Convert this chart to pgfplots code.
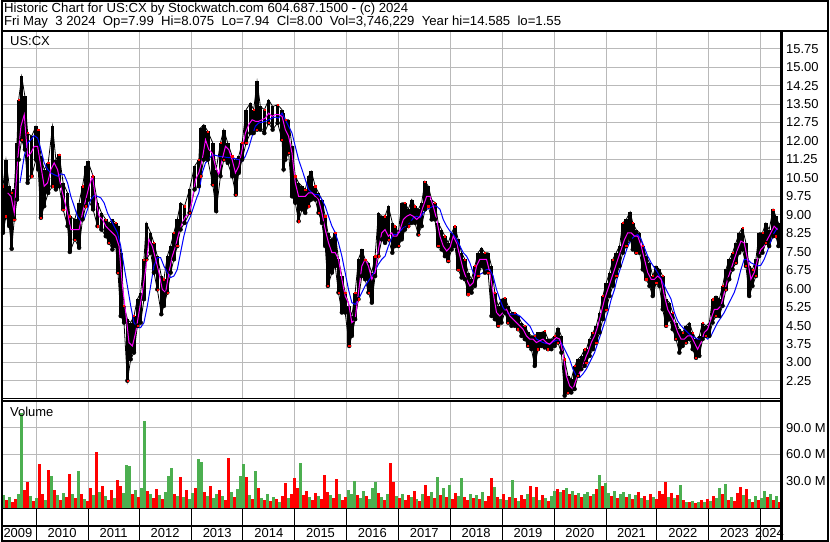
\documentclass[border=0pt]{standalone}
\usepackage{pgfplots}
\pgfplotsset{compat=1.18}
\usepackage{pgfplotstable}
\usepackage{fontspec}
\setmainfont{Liberation Sans}
\definecolor{vgreen}{RGB}{76,175,80}
\definecolor{vred}{RGB}{255,0,0}
\definecolor{mag}{RGB}{255,0,255}
\definecolor{mablue}{RGB}{0,0,255}
\definecolor{gridc}{RGB}{185,185,185}

\pgfplotstableread{
x hi lo
2 10.16 8.27
5 11.24 8.94
8.3 10.16 8.54
10.7 9.89 7.62
13.3 10.03 8.81
16 11.92 9.62
17.7 13.67 11.24
20.7 14.62 12.05
24 13.81 11.65
26.7 12.32 10.30
30.7 12.19 10.57
35 12.60 11.24
37.3 12.46 10.84
40 11.38 8.88
43.3 10.84 9.35
47.3 11.11 9.89
51.7 12.60 10.16
55 11.24 10.03
58.3 11.45 10.16
62.3 10.30 9.22
66.7 9.89 8.54
69 8.94 7.49
74 8.81 8.00
78.3 9.49 7.66
81.7 10.16 8.81
85 10.97 9.35
87.3 11.17 9.62
92.3 10.57 9.22
96.7 9.49 8.54
100.7 9.08 8.40
105 8.81 8.13
108.3 8.67 7.86
111.7 8.81 7.59
115 8.67 7.73
117.3 8.54 6.65
120 7.46 4.89
123.3 5.30 4.62
126.7 4.76 2.26
130 4.62 3.13
133.3 4.89 3.40
136.7 5.57 4.49
140 5.84 4.62
143.3 7.19 5.57
145.7 8.67 7.19
150 8.27 7.46
153.3 7.86 6.65
156.7 7.32 5.97
160.7 6.51 4.96
163.3 6.38 5.30
166.7 7.32 5.84
170 7.73 6.65
173.3 8.27 7.19
176.7 8.81 7.73
180 9.49 8.40
184 9.35 8.67
189 10.03 9.08
194 10.97 10.03
198.3 11.24 10.16
200 12.53 10.57
203.3 12.66 11.24
207.3 12.39 11.24
212.3 11.92 10.23
215.7 10.84 9.15
220 11.92 10.57
223.3 12.46 11.24
227.3 11.92 11.11
231.7 11.38 10.57
235.3 11.24 9.82
238.3 11.38 10.70
241.7 11.92 11.24
245.7 13.27 11.92
250 13.54 12.32
253.3 13.27 12.32
256.7 14.42 12.46
260 13.40 12.46
264 13.27 12.32
268.3 13.67 12.73
272.3 13.40 12.46
277.3 13.47 12.73
281.7 13.27 12.05
283.3 13.13 10.84
285 12.86 11.24
288.3 12.86 11.51
291.7 11.78 9.75
295 10.57 9.49
298.3 10.30 8.74
301.7 10.16 9.22
305 10.03 9.08
308.3 10.57 9.35
311 10.77 9.62
315 10.16 9.62
318.3 9.89 9.08
321.7 9.62 8.67
325 8.94 7.73
327.7 8.27 6.11
331.7 8.00 6.65
335 8.27 6.92
338.3 7.19 5.84
341.7 6.51 5.03
345 5.84 5.03
349 5.30 3.67
351.7 4.89 4.08
355 5.84 4.76
358.3 7.19 5.57
361.7 7.59 6.51
365 7.19 6.38
368.3 7.05 5.84
371.7 6.65 5.43
375 7.32 6.51
378.3 9.08 7.32
381.7 8.94 8.00
385 8.94 7.86
388.3 9.35 8.00
392.3 8.67 7.46
395 8.54 7.73
398.3 8.27 7.73
401.7 9.49 8.00
405 9.49 8.40
408.3 9.22 8.54
411.7 9.62 8.67
415 9.35 8.67
418.3 9.22 8.20
421.7 9.49 8.54
425 10.36 9.22
428.3 10.16 9.35
431.7 9.62 8.81
435 9.49 8.81
438.3 8.67 7.73
441.7 8.40 7.59
445 8.13 7.32
448.3 7.86 7.12
451.7 8.27 7.59
455 8.54 7.73
458.3 8.00 6.78
461.7 7.46 6.45
465 7.19 6.38
468.3 6.65 5.77
471.7 6.38 5.84
475 6.92 6.11
478.3 7.46 6.51
481.7 7.66 6.92
485 7.46 6.65
488.3 7.46 6.65
491.7 6.92 4.89
495 5.84 4.76
498.3 5.30 4.49
501.7 5.57 4.62
505 5.63 5.03
508.3 5.30 4.62
511.7 5.03 4.49
515 5.03 4.49
518.3 4.89 4.35
521.7 4.62 4.08
525 4.49 3.95
528.3 4.22 3.67
531.7 4.08 3.54
535 4.08 2.86
538.3 4.22 3.54
541.7 4.22 3.67
545 4.28 3.61
548.3 3.95 3.54
551.7 3.95 3.54
555 4.08 3.67
558.3 4.42 3.81
561.7 4.08 3.40
565 3.13 1.65
568.3 2.46 1.78
571.7 2.32 1.78
575 2.86 1.92
578.3 3.13 2.46
581.7 3.27 2.73
585 3.54 2.86
586.7 3.54 3.00
590 3.95 3.27
593.3 4.22 3.54
596.7 4.49 3.81
600 5.03 4.22
603.3 5.70 4.76
606.7 6.24 5.16
610 6.65 5.70
613.3 7.19 6.11
616.7 7.46 6.51
620 7.73 6.92
623.3 8.67 7.46
626.7 8.81 7.73
630.7 9.12 8.00
633.3 8.67 7.59
636.7 8.40 7.46
640 8.27 7.46
643.3 7.73 6.78
646.7 7.32 6.38
650 7.05 6.11
653.3 6.51 5.70
656.7 6.92 6.24
660 6.78 6.11
663.3 6.51 5.16
666.7 5.57 4.49
670 5.43 4.76
673.3 5.03 4.35
676.7 4.62 3.95
680 4.35 3.40
683.3 4.22 3.67
686.7 4.49 3.81
690 4.62 3.95
693.3 4.22 3.54
696.7 3.95 3.19
700 4.08 3.27
703.3 4.62 3.95
706.7 4.49 4.08
710 4.62 4.08
713.3 5.57 4.62
716.7 5.70 4.89
720 5.57 4.89
723.3 6.11 5.30
726.7 6.78 5.97
730 7.19 6.38
733.3 7.46 6.78
736.7 7.86 7.05
740 8.27 7.46
743.3 8.47 7.59
746.7 7.86 6.92
750 6.92 5.70
753.3 6.78 6.11
756.7 7.19 6.51
760 8.27 7.32
763.3 8.27 7.46
766.7 8.67 7.86
770 8.40 7.73
774 9.22 8.13
776.7 8.94 8.13
779.3 8.67 7.73
}\price

\pgfplotstableread{
x m
6.7 9.89
10 9.75
13.3 9.08
16.7 11.24
20 12.60
23.3 13.07
26.7 11.38
30 11.51
33.3 11.78
36.7 11.78
40 10.97
43.3 10.16
46.7 10.30
50 10.84
53.3 11.11
56.7 10.84
60 10.16
63.3 9.62
66.7 9.08
70 8.40
75 8.40
78.3 8.40
81.7 9.08
85 9.62
88.3 10.16
91.7 10.57
95 9.62
98.3 8.94
101.7 8.81
105 8.54
108.3 8.40
111.7 8.27
115 8.13
118.3 7.73
121.7 6.11
125 5.03
128.3 3.81
131.7 3.67
135 4.22
138.3 5.03
141.7 5.84
145 6.78
148.3 8.00
151.7 7.73
155 7.19
158.3 6.65
161.7 5.97
165 5.84
168.3 6.65
171.7 7.32
175 7.73
178.3 8.27
181.7 8.67
185 8.94
188.3 9.01
191.7 9.62
195 10.43
198.3 10.70
201.7 11.24
205 12.05
208.3 11.65
211.7 11.51
215 10.97
218.3 10.63
221.7 11.24
225 11.78
228.3 11.65
231.7 11.24
235 10.70
238.3 10.97
241.7 11.65
245 12.32
248.3 12.66
251.7 12.86
255 12.80
258.3 12.80
261.7 12.86
265 12.93
268.3 13.13
271.7 13.00
275 13.07
278.3 13.07
281.7 13.00
285 12.46
288.3 12.19
291.7 11.51
295 10.30
298.3 9.75
301.7 9.75
305 9.75
308.3 9.89
311.7 9.89
315 9.75
318.3 9.62
321.7 9.08
325 8.40
328.3 7.86
331.7 7.46
335 7.46
338.3 7.19
341.7 6.38
345 5.70
348.3 5.43
351.7 4.62
355 4.76
358.3 5.84
361.7 6.92
365 7.19
368.3 6.92
371.7 6.38
375 6.65
378.3 7.59
381.7 8.27
385 8.40
388.3 8.13
391.7 8.27
393.3 8.13
396.7 8.13
400 8.40
403.3 8.81
406.7 8.94
410 9.01
413.3 8.94
416.7 8.81
420 8.94
423.3 9.35
426.7 9.75
430 9.75
433.3 9.35
436.7 8.81
440 8.13
443.3 7.73
446.7 7.53
450 7.66
453.3 8.13
456.7 7.86
460 7.32
463.3 6.78
466.7 6.38
470 6.11
473.3 6.24
476.7 6.92
480 7.19
483.3 7.19
486.7 7.19
490 6.65
493.3 5.84
496.7 5.03
500 4.89
503.3 5.03
506.7 5.16
510 4.89
513.3 4.76
516.7 4.62
520 4.49
523.3 4.35
526.7 4.08
530 3.95
533.3 3.95
536.7 3.81
540 3.88
543.3 3.95
546.7 3.81
550 3.74
553.3 3.88
556.7 4.01
560 3.95
563.3 3.40
566.7 2.46
570 2.05
573.3 1.92
576.7 2.32
580 2.59
583.3 2.86
586.7 3.27
588.3 3.40
591.7 3.81
595 4.08
598.3 4.49
601.7 5.03
605 5.57
608.3 5.97
611.7 6.38
615 6.78
618.3 7.19
621.7 7.59
625 8.00
628.3 8.27
631.7 8.27
635 8.13
638.3 8.13
641.7 7.73
645 7.19
648.3 6.65
651.7 6.38
655 6.38
658.3 6.51
661.7 6.38
665 5.70
668.3 5.16
671.7 4.89
675 4.62
678.3 4.22
681.7 3.95
685 3.95
688.3 4.08
691.7 4.08
695 3.81
698.3 3.54
701.7 3.81
705 4.22
708.3 4.35
711.7 4.76
715 5.16
718.3 5.16
721.7 5.30
725 5.84
728.3 6.38
731.7 6.78
735 7.19
738.3 7.59
741.7 7.93
745 7.86
748.3 7.19
751.7 6.38
755 6.65
758.3 7.19
761.7 7.59
765 7.73
768.3 8.00
771.7 8.27
775 8.54
778.3 8.40
}\mafast

\pgfplotstableread{
x m
19 10.30
23.3 11.38
26.7 11.92
30 12.05
33.3 12.22
36.7 12.12
40 11.65
43.3 11.11
46.7 10.84
50 10.70
53.3 10.63
56.7 10.57
60 10.66
63.3 10.63
66.7 10.30
70 9.75
73.3 9.35
76.7 8.94
80 8.74
83.3 8.81
86.7 9.22
90 9.62
93.3 9.78
96.7 9.75
100 9.69
103.3 9.49
106.7 9.08
110 8.81
113.3 8.54
116.7 8.27
120 7.73
123.3 6.92
126.7 6.11
130 5.30
133.3 4.62
136.7 4.42
140 4.42
143.3 4.62
146.7 5.30
150 6.11
153.3 6.92
156.7 7.26
160 7.26
163.3 6.92
166.7 6.65
170 6.45
173.3 6.51
176.7 6.78
180 7.46
183.3 8.13
186.7 8.67
190 8.94
193.3 9.35
196.7 9.75
198.3 9.89
201.7 10.70
205 11.11
208.3 11.24
211.7 11.45
218.3 11.38
225 11.34
231.7 11.31
238.3 11.24
241.7 11.17
245 11.38
248.3 11.72
251.7 12.19
255 12.60
258.3 12.73
261.7 12.76
265 12.80
268.3 12.86
271.7 12.93
275 12.97
278.3 12.93
281.7 13.13
285 12.86
288.3 12.60
291.7 12.32
295 11.78
298.3 11.24
301.7 10.84
305 10.43
308.3 10.03
311.7 9.89
315 9.82
318.3 9.82
321.7 9.62
325 9.35
328.3 8.94
331.7 8.54
335 8.27
338.3 7.86
341.7 7.32
345 6.65
348.3 5.97
351.7 5.43
355 5.36
358.3 5.57
361.7 5.84
365 6.11
368.3 6.31
371.7 6.51
375 6.72
378.3 6.99
381.7 7.19
385 7.32
388.3 7.73
391.7 8.07
393.3 8.20
396.7 8.20
400 8.34
403.3 8.47
406.7 8.54
410 8.67
413.3 8.88
416.7 8.94
420 8.88
423.3 9.08
426.7 9.22
430 9.28
433.3 9.35
436.7 9.35
440 9.22
443.3 8.81
446.7 8.54
450 8.34
453.3 8.20
456.7 8.00
460 7.73
463.3 7.46
466.7 7.32
470 7.05
473.3 6.65
476.7 6.51
480 6.58
483.3 6.65
486.7 6.78
490 6.78
493.3 6.51
496.7 5.97
500 5.57
503.3 5.23
506.7 5.03
510 4.96
516.7 4.96
520 4.89
523.3 4.76
526.7 4.62
530 4.49
533.3 4.22
536.7 3.95
540 3.88
543.3 3.81
546.7 3.77
550 3.74
553.3 3.84
556.7 3.90
560 3.90
563.3 3.67
566.7 3.40
570 3.13
573.3 2.73
576.7 2.46
580 2.39
583.3 2.53
586.7 2.73
588.3 2.86
591.7 3.13
595 3.40
598.3 3.81
601.7 4.22
605 4.62
608.3 5.03
611.7 5.57
615 5.97
618.3 6.51
621.7 6.92
625 7.32
628.3 7.73
631.7 8.00
635 8.13
638.3 8.20
641.7 8.00
645 7.66
648.3 7.32
651.7 7.05
655 6.85
658.3 6.65
661.7 6.38
665 6.11
668.3 5.84
671.7 5.57
675 5.03
678.3 4.69
681.7 4.49
685 4.35
688.3 4.22
691.7 4.08
695 4.01
698.3 3.95
701.7 3.95
705 4.08
708.3 3.95
711.7 4.08
715 4.35
718.3 4.62
721.7 4.82
725 5.03
728.3 5.30
731.7 5.57
735 5.84
738.3 6.24
741.7 6.78
745 7.19
748.3 7.19
751.7 7.05
755 6.99
758.3 6.92
761.7 6.95
765 7.19
768.3 7.53
771.7 7.93
775 8.27
778.3 8.47
}\maslow

\pgfplotstableread{
x v
6 9
12 7
15 10
24 20
27 29
33 8
39 49
42 15
48 42
54 20
60 9
66 12
69 38
75 11
81 15
87 8
90 22
96 63
102 25
108 9
111 20
117 31
120 24
132 15
138 12
147 19
153 11
156 21
162 10
174 16
180 35
186 20
195 22
204 18
210 24
219 20
225 9
228 56
234 12
246 35
252 10
258 22
264 9
270 8
276 10
282 13
285 28
291 16
294 33
297 22
303 14
306 19
312 9
315 17
321 10
324 37
327 18
333 11
336 32
342 9
345 12
357 14
366 13
378 17
384 9
390 50
393 29
399 11
405 9
408 14
414 19
420 8
426 26
429 13
435 11
441 14
447 12
453 10
456 17
465 12
468 9
474 11
480 10
486 8
489 13
492 33
498 12
504 15
510 12
516 11
522 14
525 10
531 24
537 23
543 14
549 8
558 21
564 20
570 16
576 14
582 12
591 13
597 21
603 24
612 13
618 11
627 12
633 10
639 18
645 13
651 16
657 10
660 19
663 15
666 29
672 17
678 14
684 9
690 6
696 5
702 9
708 10
714 13
723 15
729 9
735 8
738 17
741 23
747 21
753 7
759 9
768 12
774 9
780 7
}\volred

\pgfplotstableread{
x v
3 14
9 12
18 15
21 106
30 13
36 11
45 9
51 36
57 14
63 17
72 16
78 41
84 10
93 14
99 18
105 13
114 11
123 17
126 48
129 47
135 20
141 22
144 97
150 15
159 14
165 18
168 36
171 45
177 13
183 12
189 10
192 17
198 55
201 52
207 13
213 11
216 16
222 13
231 18
237 21
240 36
243 49
249 14
255 41
261 11
267 15
273 12
279 7
288 11
300 50
309 12
318 13
330 14
339 15
348 20
351 16
354 30
360 11
363 19
369 10
372 22
375 29
381 12
387 15
396 13
402 16
411 12
417 10
423 15
432 18
438 35
444 22
450 26
459 13
462 34
471 16
477 14
483 18
495 23
501 10
507 9
513 31
519 8
528 16
534 12
540 9
546 11
552 13
555 19
561 18
567 22
573 19
579 17
585 15
588 18
594 16
600 37
606 28
609 17
615 19
621 15
624 18
630 16
636 14
642 11
648 9
654 12
669 12
675 11
681 26
687 7
693 8
699 7
705 6
711 8
717 11
720 22
726 27
732 12
744 14
750 10
756 13
762 11
765 19
771 15
777 13
}\volgreen

\begin{document}
\begin{tikzpicture}[font=\fontsize{13}{15}\selectfont]
\fill[white] (0,0) rectangle (830pt,543pt);

% grid, aligned to pixel centres
\foreach \xx in {35.5,87.5,138.5,190.5,242.5,294.5,346.5,398.5,450.5,502.5,554.5,606.5,657.5,709.5,761.5} {
  \draw[gridc, line width=1pt] (\xx pt,144pt) -- (\xx pt,511pt);
  \draw[gridc, line width=1pt] (\xx pt,34pt) -- (\xx pt,141pt);
}
\foreach \yy in {161.5,179.5,198.5,216.5,235.5,253.5,272.5,290.5,309.5,327.5,346.5,364.5,383.5,401.5,420.5,438.5,457.5,475.5,494.5,60.5,87.5,114.5}
  \draw[gridc, line width=1pt] (2pt,\yy pt) -- (782pt,\yy pt);

% price panel
\begin{axis}[
  at={(2pt,144pt)}, anchor=south west, scale only axis,
  width=780pt, height=367pt,
  xmin=2, xmax=782, ymin=1.555, ymax=16.43,
  axis line style={draw=none},
  xtick={35.3,87.3,138.3,190.7,242.7,294.3,346.3,398.3,450.3,502.3,554.3,606.3,657.7,709.3,761.3},
  xticklabels={},
  ytick={2.25,3,3.75,4.5,5.25,6,6.75,7.5,8.25,9,9.75,10.5,11.25,12,12.75,13.5,14.25,15,15.75},
  yticklabel pos=right,
  /pgf/number format/fixed,
  /pgf/number format/fixed zerofill,
  /pgf/number format/precision=2,
  /pgf/number format/assume math mode=true,
  yticklabel style={anchor=west, xshift=1.5pt, font=\fontsize{13}{15}\selectfont},
  major tick length=0pt,
]
\addplot[black, only marks, mark=none,
  error bars/.cd, y dir=plus, y explicit, error mark=none,
  error bar style={black, line width=3.6pt}]
  table[x=x, y=lo, y error plus expr=\thisrow{hi}-\thisrow{lo}] {\price};
\addplot[black, line width=0.8pt] table[x=x, y=hi] {\price};
\addplot[black, line width=0.8pt] table[x=x, y=lo] {\price};
\addplot[only marks, mark=square*, mark size=0.6pt, vred, mark repeat=3] table[x=x, y=hi] {\price};
\addplot[only marks, mark=square*, mark size=0.6pt, vred, mark repeat=3, mark phase=2] table[x=x, y=lo] {\price};
\addplot[mablue, line width=1pt] table[x=x, y=m] {\maslow};
\addplot[mag, line width=1pt] table[x=x, y=m] {\mafast};
\end{axis}

% volume panel
\begin{axis}[
  at={(2pt,34pt)}, anchor=south west, scale only axis,
  width=780pt, height=107pt,
  xmin=2, xmax=782, ymin=0, ymax=120,
  axis line style={draw=none},
  xtick={35.3,87.3,138.3,190.7,242.7,294.3,346.3,398.3,450.3,502.3,554.3,606.3,657.7,709.3,761.3},
  xticklabels={},
  ytick={30,60,90}, yticklabels={30.0 M,60.0 M,90.0 M},
  yticklabel pos=right,
  yticklabel style={anchor=west, xshift=1.5pt, font=\fontsize{13}{15}\selectfont},
  major tick length=0pt,
]
\addplot[ycomb, vred, line width=3pt] table[x=x, y=v] {\volred};
\addplot[ycomb, vgreen, line width=3pt] table[x=x, y=v] {\volgreen};
\end{axis}

% frame and separators
\draw[line width=2pt] (1pt,1pt) rectangle (829pt,542pt);
\draw[line width=2pt] (0pt,512pt) -- (830pt,512pt);
\draw[line width=1pt] (2pt,143.5pt) -- (782pt,143.5pt);
\draw[line width=1.3pt] (2pt,141pt) -- (782pt,141pt);
\draw[line width=1.5pt] (2pt,33.5pt) -- (782pt,33.5pt);
\draw[line width=2pt] (2pt,16pt) -- (782pt,16pt);
\foreach \xx in {35.5,87.5,138.5,190.5,242.5,294.5,346.5,398.5,450.5,502.5,554.5,606.5,657.5,709.5,761.5}
  \draw[line width=1pt] (\xx pt,2pt) -- (\xx pt,33.5pt);
\draw[line width=2.5pt] (782.5pt,2pt) -- (782.5pt,512pt);

% texts
\node[anchor=base west, inner sep=0pt, font=\fontsize{13.2}{15}\selectfont] at (3pt,530pt) {Historic Chart for US:CX by Stockwatch.com 604.687.1500 - (c) 2024};
\node[anchor=base west, inner sep=0pt, font=\fontsize{13.2}{15}\selectfont] at (3pt,517.5pt) {Fri May~~3 2024~~Op=7.99~~Hi=8.075~~Lo=7.94~~Cl=8.00~~Vol=3,746,229~~Year hi=14.585~~lo=1.55};
\node[anchor=base west, inner sep=0pt] at (9pt,497pt) {US:CX};
\node[anchor=base west, inner sep=0pt] at (9pt,125pt) {Volume};
\foreach \xx/\yy in {17/2009,61.3/2010,112.8/2011,164.5/2012,216.7/2013,268.5/2014,320.3/2015,372.3/2016,424.3/2017,476.3/2018,528.3/2019,580.3/2020,632/2021,683.5/2022,735.3/2023,770.3/2024}
  \node[inner sep=0pt] at (\xx pt,8.5pt) {\yy};
\end{tikzpicture}
\end{document}
